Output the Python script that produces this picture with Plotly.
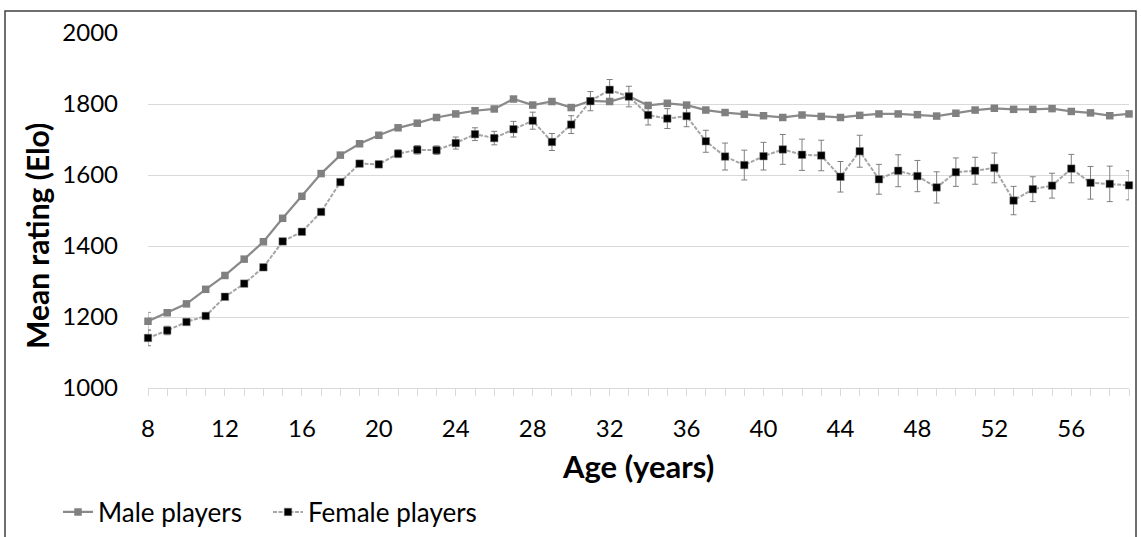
import plotly.graph_objects as go

# Age categories (years)
ages = list(range(8, 60))

# Mean Elo rating by age
male_rating = [1188, 1212, 1237, 1278, 1317, 1363, 1412, 1478, 1540, 1604, 1656, 1688, 1712, 1733,
               1746, 1762, 1772, 1781, 1786, 1814, 1797, 1807, 1790, 1809, 1807, 1822,
               1796, 1802, 1797, 1783, 1776, 1771, 1767, 1762, 1769, 1765, 1762, 1768, 1772,
               1772, 1770, 1766, 1774, 1783, 1788, 1785, 1785, 1787, 1779, 1775, 1767, 1772]
female_rating = [1141, 1162, 1186, 1203, 1257, 1294, 1340, 1413, 1440, 1496, 1580, 1632, 1630, 1660,
                 1671, 1670, 1690, 1715, 1704, 1729, 1753, 1693, 1742, 1808, 1840, 1821,
                 1769, 1759, 1766, 1695, 1652, 1628, 1653, 1672, 1657, 1655, 1595, 1667, 1588,
                 1612, 1597, 1565, 1608, 1612, 1620, 1528, 1560, 1570, 1618, 1578, 1575, 1571]

# Standard errors of the means
male_err = [25, 8, 4, 4, 4, 4, 4, 4, 4, 4, 4, 4, 4, 4,
            5, 5, 5, 5, 5, 5, 5, 5, 5, 6, 6, 6,
            6, 6, 6, 6, 6, 6, 6, 6, 6, 6, 6, 6, 6,
            6, 6, 6, 6, 6, 6, 6, 6, 6, 6, 6, 6, 6]
female_err = [22, 12, 6, 6, 6, 6, 6, 6, 7, 7, 8, 8, 9, 11,
              12, 12, 17, 18, 19, 22, 24, 24, 25, 27, 29, 29,
              28, 28, 30, 31, 38, 42, 39, 42, 44, 43, 43, 45, 42,
              45, 44, 44, 40, 38, 42, 40, 35, 35, 40, 46, 50, 41]

FONT = "Lato"
W, H = 1141, 537
L, R, T, B = 148, 12, 33, 149
PW, PH = W - L - R, H - T - B


def px(x):
    return (x - L) / PW


def py(y):
    return (H - B - y) / PH


fig = go.Figure()

fig.add_trace(go.Scatter(
    x=ages, y=male_rating, name="Male players", mode="lines+markers",
    line=dict(color="#8a8a8a", width=2.25),
    marker=dict(symbol="square", size=7.5, color="#808080"),
    error_y=dict(type="data", array=male_err, visible=True,
                 color="#9a9a9a", thickness=1, width=3),
    cliponaxis=False,
))

fig.add_trace(go.Scatter(
    x=ages, y=female_rating, name="Female players", mode="lines+markers",
    line=dict(color="#a6a6a6", width=2, dash="4px,1.5px"),
    marker=dict(symbol="square", size=7.5, color="#000000",
                line=dict(color="#808080", width=0.5)),
    error_y=dict(type="data", array=female_err, visible=True,
                 color="#7f7f7f", thickness=1, width=3),
    cliponaxis=False,
))

fig.update_layout(
    width=W, height=H,
    margin=dict(l=L, r=R, t=T, b=B, pad=0, autoexpand=False),
    paper_bgcolor="white", plot_bgcolor="white",
    font=dict(family=FONT, size=24, color="#000000"),
    showlegend=True,
    legend=dict(orientation="h", x=px(58), y=py(512), xanchor="left", yanchor="middle",
                font=dict(family=FONT, size=26, color="#000000"),
                itemwidth=30, entrywidth=165, entrywidthmode="pixels",
                bgcolor="rgba(0,0,0,0)"),
    xaxis=dict(
        range=[8, 59], tick0=8, dtick=4, showgrid=False, zeroline=False,
        showline=True, linecolor="#d9d9d9", linewidth=1,
        ticks="outside", ticklen=7, tickcolor="#d9d9d9", tickwidth=1,
        minor=dict(dtick=1, tick0=8, ticks="outside", ticklen=7,
                   tickcolor="#d9d9d9", tickwidth=1, showgrid=False),
        tickfont=dict(family=FONT, size=24), ticklabelstandoff=12,
    ),
    yaxis=dict(
        range=[1000, 2000], dtick=200, showgrid=True, gridcolor="#d9d9d9", gridwidth=1,
        zeroline=False, showline=False, ticks="",
        tickfont=dict(family=FONT, size=24), ticklabelstandoff=29,
    ),
    annotations=[
        dict(text="<b>Age (years)</b>", xref="paper", yref="paper",
             x=px(638), y=py(466), xanchor="center", yanchor="middle",
             showarrow=False, font=dict(family=FONT, size=31)),
        dict(text="<b>Mean rating (Elo)</b>", xref="paper", yref="paper",
             x=px(37), y=py(236), xanchor="center", yanchor="middle", textangle=-90,
             showarrow=False, font=dict(family=FONT, size=30)),
    ],
    shapes=[dict(type="rect", xref="paper", yref="paper",
                 x0=px(5), x1=px(1136), y0=py(545), y1=py(11),
                 line=dict(color="#404040", width=1.5), fillcolor="rgba(0,0,0,0)",
                 layer="below")],
)

fig.write_html("out.html")
